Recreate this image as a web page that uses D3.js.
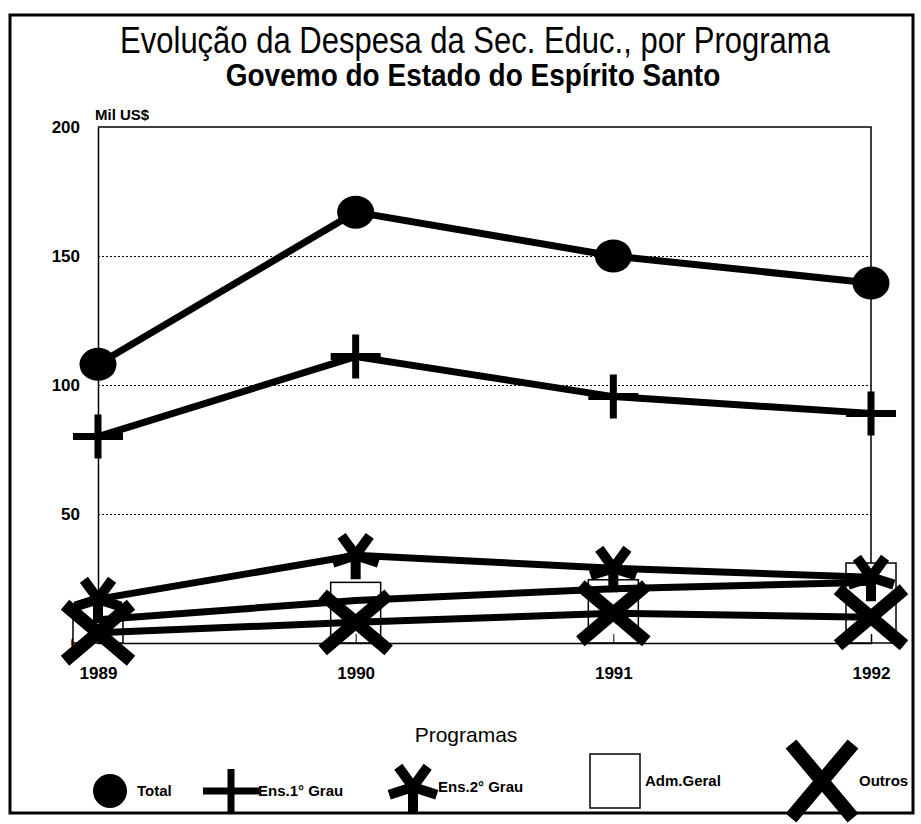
<!DOCTYPE html>
<meta charset="utf-8">
<style>
  body { margin: 0; background: #fff; }
  text { font-family: Arial, "Liberation Sans", sans-serif; fill: #000; }
  .grid line { stroke: #000; stroke-width: 1; stroke-dasharray: 2,2; }
  .tick-label { font-weight: bold; font-size: 17px; }
</style>
<body>
<script src="https://d3js.org/d3.v7.min.js"></script>
<script>

// data (Mil US$)
var years = ["1989", "1990", "1991", "1992"];
var total = [108, 167, 150, 139.5];
var ens1Grau = [80, 111, 95.5, 89];
var ens2Grau = [17, 34, 29, 25.5];
var admGeral = [9, 16.5, 21, 23.5];      // line through the boxes
var admGeralBox = [15, 23.5, 24.5, 31];  // white boxes from the baseline
var outros = [4, 8, 11.5, 10];
var yTicks = [0, 50, 100, 150, 200];

// set the dimensions of the page and the plot box
var width = 921, height = 824;
var plot = { left: 98, right: 871, top: 127, bottom: 643 };

var svg = d3.select("body").append("svg")
  .attr("width", width)
  .attr("height", height);

// outer frame
svg.append("rect")
  .attr("x", 10).attr("y", 15)
  .attr("width", 903).attr("height", 798)
  .attr("fill", "none")
  .attr("stroke", "#000")
  .attr("stroke-width", 3);

// titles (the scan is a little taller than plain Arial)
svg.append("text")
  .attr("transform", "translate(475,53) scale(1,1.2)")
  .attr("text-anchor", "middle")
  .attr("font-size", "31px")
  .text("Evolução da Despesa da Sec. Educ., por Programa");

svg.append("text")
  .attr("transform", "translate(473,86) scale(1,1.1)")
  .attr("text-anchor", "middle")
  .attr("font-size", "28px")
  .attr("font-weight", "bold")
  .text("Govemo do Estado do Espírito Santo");

svg.append("text")
  .attr("x", 95).attr("y", 120)
  .attr("font-size", "15px")
  .attr("font-weight", "bold")
  .text("Mil US$");

// scales
var x = d3.scalePoint()
  .domain(years)
  .range([plot.left, plot.right]);
var y = d3.scaleLinear()
  .domain([0, 200])
  .range([plot.bottom, plot.top]);

// dotted grid lines
svg.append("g")
  .attr("class", "grid")
  .attr("transform", "translate(" + plot.left + ",0)")
  .call(d3.axisLeft(y).tickValues([50, 100, 150]).tickSize(-(plot.right - plot.left)).tickFormat(""))
  .call(function (g) { g.select(".domain").remove(); });

// plot box (top and right edges)
svg.append("path")
  .attr("d", "M" + plot.left + "," + y(200) + "H" + plot.right + "V" + y(0))
  .attr("fill", "none")
  .attr("stroke", "#000")
  .attr("stroke-width", 1.5);

// y axis
var yAxis = svg.append("g")
  .attr("transform", "translate(" + plot.left + ",0)")
  .call(d3.axisLeft(y).tickValues(yTicks).tickSize(0).tickPadding(18));
yAxis.select(".domain").attr("stroke-width", 1.5);
yAxis.selectAll("text").attr("class", "tick-label").attr("font-family", null);

// adm. geral boxes, drawn first so the lines cross them
svg.selectAll(".box")
  .data(admGeralBox)
  .enter().append("rect")
  .attr("class", "box")
  .attr("x", function (d, i) { return x(years[i]) - 25; })
  .attr("width", 50)
  .attr("y", function (d) { return y(d); })
  .attr("height", function (d) { return y(0) - y(d); })
  .attr("fill", "#fff")
  .attr("stroke", "#000")
  .attr("stroke-width", 1.5);

// x axis
var xAxis = svg.append("g")
  .attr("transform", "translate(0," + y(0) + ")")
  .call(d3.axisBottom(x).tickSize(-9).tickPadding(24));
xAxis.select(".domain").attr("stroke-width", 1.5);
xAxis.selectAll("line").attr("stroke-width", 1);
xAxis.selectAll("text").attr("class", "tick-label").attr("font-family", null);

// lines
var line = d3.line()
  .x(function (d, i) { return x(years[i]); })
  .y(function (d) { return y(d); });

[total, ens1Grau, ens2Grau, admGeral, outros].forEach(function (s) {
  svg.append("path")
    .datum(s)
    .attr("d", line)
    .attr("fill", "none")
    .attr("stroke", "#000")
    .attr("stroke-width", 7);
});

// marker shapes
function drawEllipse(g, rx, ry) {
  g.append("ellipse").attr("rx", rx).attr("ry", ry).attr("fill", "#000");
}
function drawCross(g, w, h, t) {
  g.append("path")
    .attr("d", "M" + (-w) + ",0H" + w + "M0," + (-h) + "V" + h)
    .attr("stroke", "#000").attr("stroke-width", t);
}
function drawStar(g, r, t) {
  var d = "";
  [90, 18, -54, -126, 162].forEach(function (a) {
    var rad = a * Math.PI / 180;
    d += "M0,0L" + (r * Math.cos(rad)) + "," + (r * Math.sin(rad));
  });
  g.append("path").attr("d", d)
    .attr("stroke", "#000").attr("stroke-width", t);
}
function drawX(g, w, h, t) {
  g.append("path")
    .attr("d", "M" + (-w) + "," + (-h) + "L" + w + "," + h + "M" + w + "," + (-h) + "L" + (-w) + "," + h)
    .attr("stroke", "#000").attr("stroke-width", t);
}

function markers(data, draw) {
  data.forEach(function (d, i) {
    var g = svg.append("g")
      .attr("transform", "translate(" + x(years[i]) + "," + y(d) + ")");
    draw(g);
  });
}

markers(outros, function (g) { drawX(g, 33, 28, 13); });
markers(ens2Grau, function (g) { drawStar(g, 24, 10); });
markers(ens1Grau, function (g) { drawCross(g, 25, 22, 7); });
markers(total, function (g) { drawEllipse(g, 18.5, 16.5); });

// legend
svg.append("text")
  .attr("x", 466).attr("y", 742)
  .attr("text-anchor", "middle")
  .attr("font-size", "21px")
  .text("Programas");

var legend = [
  { name: "Total", cx: 110, cy: 791, tx: 137, draw: function (g) { drawEllipse(g, 17, 17); } },
  { name: "Ens.1° Grau", cx: 231, cy: 791, tx: 258, draw: function (g) { drawCross(g, 28, 22, 7); } },
  { name: "Ens.2° Grau", cx: 413, cy: 787, tx: 438, draw: function (g) { drawStar(g, 25, 10); } },
  { name: "Adm.Geral", cx: 615, cy: 781, tx: 645, draw: function (g) {
      g.append("rect").attr("x", -25).attr("y", -27).attr("width", 50).attr("height", 54)
        .attr("fill", "#fff").attr("stroke", "#000").attr("stroke-width", 1.5);
    } },
  { name: "Outros", cx: 822, cy: 781, tx: 859, draw: function (g) { drawX(g, 31, 37, 14); } }
];

legend.forEach(function (l) {
  var g = svg.append("g").attr("transform", "translate(" + l.cx + "," + l.cy + ")");
  l.draw(g);
  svg.append("text")
    .attr("x", l.tx).attr("y", l.cy + 5)
    .attr("font-size", "15px")
    .attr("font-weight", "bold")
    .text(l.name);
});

</script>
</body>
